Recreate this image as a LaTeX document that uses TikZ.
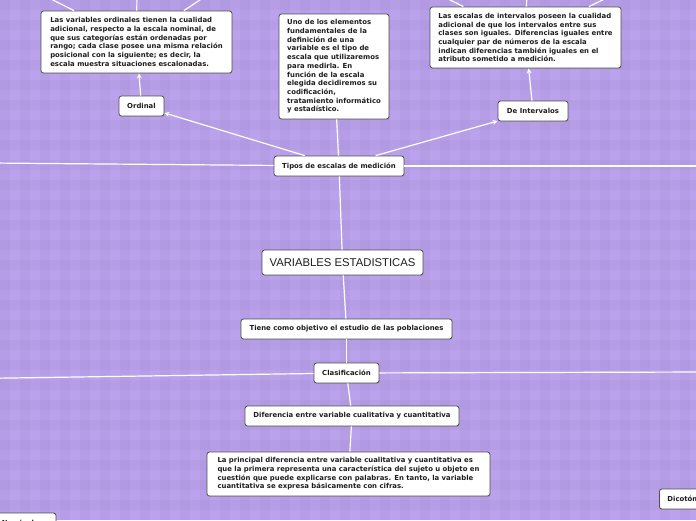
\documentclass[tikz,border=0pt]{standalone}
\usepackage{fontspec}
\setmainfont{DejaVu Sans}
\newfontfamily\titlefont{Liberation Sans}
\usetikzlibrary{shadows}
\definecolor{mapbg}{RGB}{186,162,236}
\definecolor{boxline}{RGB}{80,80,80}
\definecolor{boxtext}{RGB}{30,30,30}

\begin{document}
\begin{tikzpicture}[x=1pt,y=-1pt,>=stealth,
  box/.style={draw=boxline, fill=white, text=boxtext, rounded corners=2.5pt, line width=0.8pt,
    font=\bfseries\fontsize{6.9}{8.7}\selectfont, inner xsep=6pt, minimum height=20pt,
    drop shadow={shadow xshift=0.7pt, shadow yshift=-0.9pt, opacity=0.3}},
  note/.style={box, align=left, inner ysep=2pt},
  link/.style={white, line width=1.2pt}]
  \useasboundingbox (0,0) rectangle (696,520);
  \clip (0,0) rectangle (696,520);
  % background with faint plaid
  \fill[mapbg] (0,0) rectangle (696,520);
  \foreach \k in {0,20,...,680}
    \fill[black,opacity=0.02] (\k,0) rectangle ++(10,520);
  \foreach \k in {0,20,...,520}
    \fill[black,opacity=0.02] (0,\k) rectangle ++(696,10);

  % text boxes
  \node[note, minimum width=191pt, minimum height=62pt] (ordtext) at (136.5,42)
    {Las variables ordinales tienen la cualidad\\
     adicional, respecto a la escala nominal, de\\
     que sus categorías están ordenadas por\\
     rango; cada clase posee una misma relación\\
     posicional con la siguiente; es decir, la\\
     escala muestra situaciones escalonadas.};
  \node[note, minimum width=110pt, minimum height=105pt] (tipotext) at (334,66.5)
    {Uno de los elementos\\
     fundamentales de la\\
     definición de una\\
     variable es el tipo de\\
     escala que utilizaremos\\
     para medirla. En\\
     función de la escala\\
     elegida decidiremos su\\
     codificación,\\
     tratamiento informático\\
     y estadístico.};
  \node[note, minimum width=191pt, minimum height=61pt] (inttext) at (525.5,37.5)
    {Las escalas de intervalos poseen la cualidad\\
     adicional de que los intervalos entre sus\\
     clases son iguales. Diferencias iguales entre\\
     cualquier par de números de la escala\\
     indican diferencias también iguales en el\\
     atributo sometido a medición.};
  \node[note, minimum width=283pt, minimum height=44pt] (diftext) at (348.5,474)
    {La principal diferencia entre variable cualitativa y cuantitativa es\\
     que la primera representa una característica del sujeto u objeto en\\
     cuestión que puede explicarse con palabras. En tanto, la variable\\
     cuantitativa se expresa básicamente con cifras.};

  % topic nodes
  \node[box, minimum width=45pt] (ordinal) at (141.5,106) {Ordinal};
  \node[box, minimum width=70pt] (intervalos) at (533,111) {De Intervalos};
  \node[box, minimum width=130pt] (tipos) at (339,166) {Tipos de escalas de medición};
  \node[box, minimum width=161pt, minimum height=25pt,
    font=\titlefont\fontsize{11.3}{13}\selectfont] (titulo) at (342.5,262.5) {VARIABLES ESTADISTICAS};
  \node[box, minimum width=211pt] (objetivo) at (346.5,329) {Tiene como objetivo el estudio de las poblaciones};
  \node[box, minimum width=65pt] (clasif) at (346.5,373) {Clasificación};
  \node[box, minimum width=214pt] (diferencia) at (352,416) {Diferencia entre variable cualitativa y cuantitativa};
  \node[box, minimum width=76pt] (nominal) at (18,523) {Nominal};
  \node[box, anchor=west, inner xsep=8pt] (dicot) at (659,499) {Dicotómicas};

  % free ends outside the page
  \coordinate (ordup1) at (33,-10);
  \coordinate (ordup2) at (137,-10);
  \coordinate (ordup3) at (215,-10);
  \coordinate (intup1) at (430,-10);
  \coordinate (intup2) at (527,-10);
  \coordinate (intup3) at (623,-10);
  \coordinate (tipoleft) at (-10,163);
  \coordinate (tiporight) at (706,166);
  \coordinate (clasleft) at (-10,378.3);
  \coordinate (clasright) at (706,372);

  % connectors
  \foreach \c in {ordup1,ordup2,ordup3}
    \draw[link] (\c) -- (ordtext);
  \foreach \c in {intup1,intup2,intup3}
    \draw[link] (\c) -- (inttext);
  \draw[link,->] (ordinal) -- (ordtext);
  \draw[link,->] (intervalos) -- (inttext);
  \draw[link,->] (tipos) -- (ordinal);
  \draw[link,->] (tipos) -- (intervalos);
  \draw[link] (tipos) -- (tipotext);
  \draw[link] (tipoleft) -- (tipos);
  \draw[link] (tipos) -- (tiporight);
  \draw[link] (tipos) -- (titulo);
  \draw[link] (titulo) -- (objetivo);
  \draw[link] (objetivo) -- (clasif);
  \draw[link] (clasleft) -- (clasif);
  \draw[link] (clasif) -- (clasright);
  \draw[link] (clasif) -- (diferencia);
  \draw[link] (diferencia) -- (diftext);
\end{tikzpicture}
\end{document}
